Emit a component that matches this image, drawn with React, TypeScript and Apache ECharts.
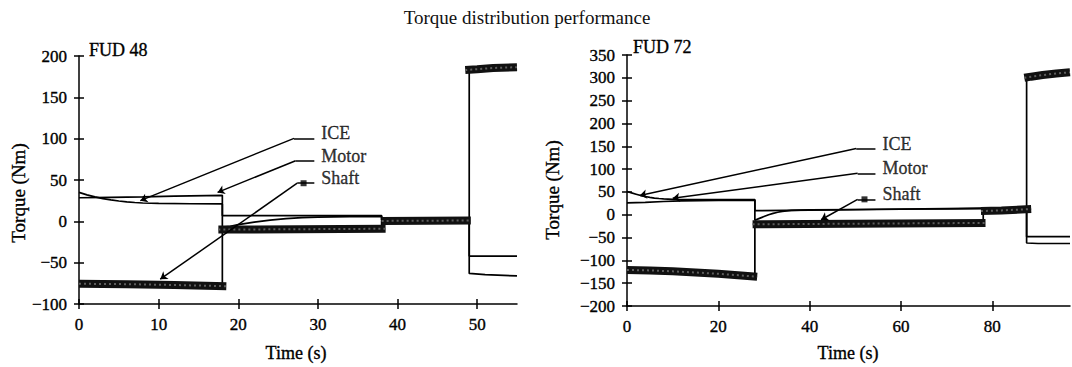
import React, { useEffect, useRef } from "react";
import * as echarts from "echarts";

// ---------- data (time s, torque Nm) ----------
const chartTitle = "Torque distribution performance";
const panelNames = ["FUD 48", "FUD 72"];
const seriesNames = ["ICE", "Motor", "Shaft"];

const xTicks48 = [0, 10, 20, 30, 40, 50];
const xTicks72 = [0, 20, 40, 60, 80];

const ice48 = [
  [0, 35], [1, 32], [2, 29.5], [3, 27.5], [4, 26], [5, 24.6], [6, 23.6], [7, 22.8], [8, 22.2],
  [10, 21.7], [14, 21.3], [18, 21], [18, -7], [19, -6], [20, -4], [22, -1], [24, 1.5], [26, 3.2],
  [28, 4.5], [30, 5.2], [34, 5.7], [38, 6], [38, 1.5], [49, 1.5], [49, -42], [55, -42],
];
const motor48 = [
  [0, 28.5], [4, 29], [8, 29.6], [12, 30.5], [18, 31.5], [18, 7], [28, 7], [38, 7], [38, 2],
  [49, 2], [49, -63], [51, -64.5], [55, -66],
];
const shaft48 = [
  [0, -75.5], [18, -78.5], [18, -10], [38, -9], [38, 1], [49, 1], [49, 183], [55, 187],
];
const shaftBands48 = [
  [[0, -75.5], [6, -76], [12, -77], [18.5, -78.5]],
  [[17.5, -10], [38.5, -9]],
  [[38, 0.5], [49.2, 1]],
  [[48.5, 183], [50, 184], [52, 185.5], [55, 186.5]],
];

const ice72 = [
  [0, 51], [1, 48], [2, 45], [3, 42], [4, 40], [5, 38], [6, 36.5], [7, 35.5], [8, 34.6], [10, 33.6],
  [14, 33], [20, 33], [28, 33], [28, -12], [29, -8], [30, -4], [31, 0], [32, 3], [33, 5.5], [34, 7.5],
  [36, 9.5], [40, 10.5], [50, 11.5], [60, 12.5], [70, 13.5], [78, 14.5], [87.5, 15], [87.5, -48], [97, -48],
];
const motor72 = [
  [0, 26], [4, 27], [8, 29], [12, 30.5], [20, 31.5], [28, 32], [28, 9], [40, 10], [60, 12], [78, 13.5],
  [87.5, 14], [87.5, -62], [90, -63], [97, -63],
];
const shaft72 = [
  [0, -121], [28, -136], [28, -21], [78, -18], [78, 8], [87.5, 12], [87.5, 302], [97, 312],
];
const shaftBands72 = [
  [[0, -121], [5, -122], [10, -124], [15, -126.5], [20, -129.5], [25, -133], [28.5, -136]],
  [[27.5, -21], [78.5, -18]],
  [[77.5, 8], [82, 9.5], [88.5, 12.5]],
  [[87, 300], [88.5, 302.5], [91, 306], [94, 309.5], [97, 312]],
];

// leader annotations: [label end, elbow, arrow tip]
const leaders48 = [
  [[29.55, 100.4], [27.0, 100.4], [7.7, 25]],
  [[29.55, 73.3], [27.2, 73.3], [17.4, 35]],
  [[29.55, 46.1], [27.4, 46.1], [10.2, -70]],
];
const shaftMarker48 = [28.2, 46.1];
const leaders72 = [
  [[54.4, 145], [50.2, 145], [2.8, 42]],
  [[54.4, 90.7], [50.5, 90.7], [10, 36]],
  [[54.4, 33.7], [50.5, 33.7], [42.5, -11]],
];
const shaftMarker72 = [52, 33.7];

const INK = "#000000";
const SERIF = "'Liberation Serif', 'Times New Roman', serif";
const TXT = { color: INK, fontFamily: SERIF, textBorderColor: INK, textBorderWidth: 0.35 };

function fmtY(v: number) {
  return v < 0 ? "\u2212" + Math.abs(v) : String(v);
}

function xAxes(grid: number, max: number, ticks: number[]) {
  const line = { color: INK, width: 1.5 };
  return [
    {
      type: "value", gridIndex: grid, min: 0, max, position: "bottom",
      axisLine: { show: true, onZero: false, lineStyle: line },
      axisTick: { show: true, inside: false, length: 5, customValues: ticks, lineStyle: line },
      axisLabel: { customValues: ticks, margin: 12, ...TXT, fontSize: 17 },
      splitLine: { show: false },
    },
    {
      type: "value", gridIndex: grid, min: 0, max, position: "bottom",
      axisLine: { show: false, onZero: false },
      axisTick: { show: true, inside: true, length: 5, customValues: ticks, lineStyle: line },
      axisLabel: { show: false },
      splitLine: { show: false },
    },
  ];
}

function yAxes(grid: number, min: number, max: number) {
  const line = { color: INK, width: 1.5 };
  return [
    {
      type: "value", gridIndex: grid, min, max, interval: 50, position: "left",
      axisLine: { show: true, onZero: false, lineStyle: line },
      axisTick: { show: true, inside: false, length: 5, lineStyle: line },
      axisLabel: { margin: 12, ...TXT, fontSize: 17, formatter: fmtY },
      splitLine: { show: false },
    },
    {
      type: "value", gridIndex: grid, min, max, interval: 50, position: "left",
      axisLine: { show: false, onZero: false },
      axisTick: { show: true, inside: true, length: 5, lineStyle: line },
      axisLabel: { show: false },
      splitLine: { show: false },
    },
  ];
}

function panelSeries(
  axis: number,
  ice: number[][],
  motor: number[][],
  shaft: number[][],
  bands: number[][][],
  leaders: number[][][],
  marker: number[],
) {
  const base = { type: "line", xAxisIndex: axis, yAxisIndex: axis, symbol: "none", silent: true };
  const out: any[] = [];
  out.push({ ...base, name: seriesNames[0], data: ice, lineStyle: { color: INK, width: 1.7 } });
  out.push({ ...base, name: seriesNames[1], data: motor, lineStyle: { color: INK, width: 1.7 } });
  out.push({ ...base, name: seriesNames[2], data: shaft, lineStyle: { color: INK, width: 1.7 } });
  bands.forEach((b) => {
    out.push({ ...base, data: b, lineStyle: { color: "#111", width: 8, cap: "butt" } });
    out.push({ ...base, data: b, lineStyle: { color: "#5e5e5e", width: 2, type: [2, 3], cap: "butt" } });
  });
  const mlData: any[] = [];
  leaders.forEach((l) => {
    mlData.push([{ coord: l[0], symbol: "none" }, { coord: l[1], symbol: "none" }]);
    mlData.push([{ coord: l[1], symbol: "none" }, { coord: l[2], symbol: "arrow" }]);
  });
  out.push({
    ...base,
    data: [],
    markLine: {
      silent: true,
      animation: false,
      symbol: ["none", "arrow"],
      symbolSize: 7,
      label: { show: false },
      lineStyle: { color: INK, width: 1.5, type: "solid" },
      data: mlData,
    },
  });
  out.push({
    type: "scatter", xAxisIndex: axis, yAxisIndex: axis, silent: true,
    symbol: "rect", symbolSize: 6, itemStyle: { color: INK },
    data: [marker],
  });
  out.push({
    type: "scatter", xAxisIndex: axis, yAxisIndex: axis, silent: true,
    symbolSize: 0,
    label: {
      show: true, position: "right", distance: 7, offset: [0, -5], formatter: "{b}",
      ...TXT, fontSize: 18,
    },
    data: leaders.map((l, i) => ({ name: seriesNames[i], value: l[0] })),
  });
  return out;
}

export default function App() {
  const ref = useRef<HTMLDivElement>(null);
  useEffect(() => {
    if (!ref.current) return;
    const chart = echarts.init(ref.current, undefined, { renderer: "svg" });
    const ts = { fill: INK, fontFamily: SERIF, stroke: INK, lineWidth: 0.35 };
    chart.setOption({
      animation: false,
      backgroundColor: "#ffffff",
      grid: [
        { left: 79, top: 56, width: 438, height: 248 },
        { left: 627, top: 55, width: 443, height: 251 },
      ],
      xAxis: [...xAxes(0, 55, xTicks48), ...xAxes(1, 97, xTicks72)],
      yAxis: [...yAxes(0, -100, 200), ...yAxes(1, -200, 350)],
      series: [
        ...panelSeries(0, ice48, motor48, shaft48, shaftBands48, leaders48, shaftMarker48),
        ...panelSeries(2, ice72, motor72, shaft72, shaftBands72, leaders72, shaftMarker72),
      ],
      graphic: [
        { type: "text", x: 527, y: 17, style: { fill: "#111", fontFamily: SERIF, text: chartTitle, fontSize: 19, align: "center", verticalAlign: "middle" } },
        { type: "text", x: 89, y: 50, style: { ...ts, text: panelNames[0], fontSize: 18, align: "left", verticalAlign: "middle" } },
        { type: "text", x: 633, y: 47, style: { ...ts, text: panelNames[1], fontSize: 18, align: "left", verticalAlign: "middle" } },
        { type: "text", x: 18, y: 193, rotation: Math.PI / 2, style: { ...ts, text: "Torque (Nm)", fontSize: 19, align: "center", verticalAlign: "middle" } },
        { type: "text", x: 552, y: 190, rotation: Math.PI / 2, style: { ...ts, text: "Torque (Nm)", fontSize: 19, align: "center", verticalAlign: "middle" } },
        { type: "text", x: 296, y: 353, style: { ...ts, text: "Time (s)", fontSize: 18, align: "center", verticalAlign: "middle" } },
        { type: "text", x: 848, y: 353, style: { ...ts, text: "Time (s)", fontSize: 18, align: "center", verticalAlign: "middle" } },
      ],
    });
    return () => chart.dispose();
  }, []);
  return (
    <div
      ref={ref}
      style={{ position: "fixed", left: 0, top: 0, width: 1072, height: 367, background: "#fff" }}
    />
  );
}
